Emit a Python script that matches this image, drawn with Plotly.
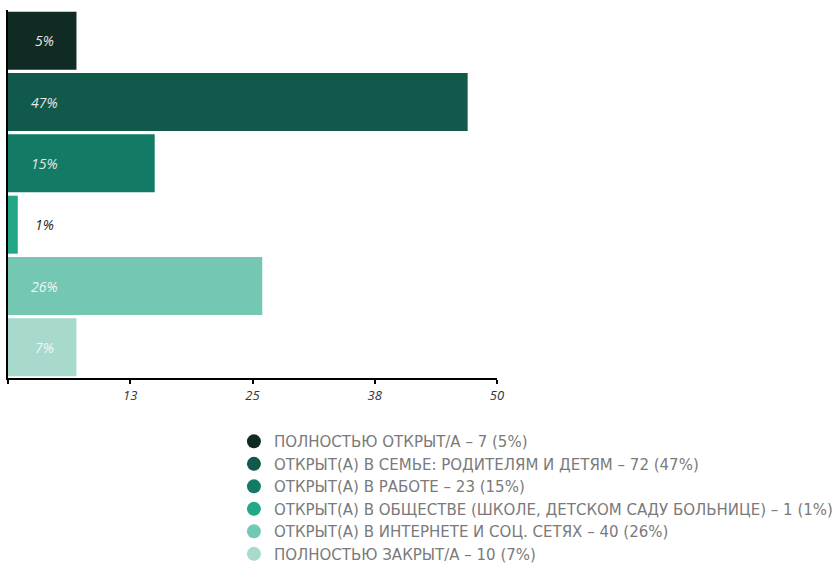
import plotly.graph_objects as go

categories = ["ПОЛНОСТЬЮ ОТКРЫТ/А", "ОТКРЫТ(А) В СЕМЬЕ", "ОТКРЫТ(А) В РАБОТЕ",
              "ОТКРЫТ(А) В ОБЩЕСТВЕ", "ОТКРЫТ(А) В ИНТЕРНЕТЕ", "ПОЛНОСТЬЮ ЗАКРЫТ/А"]
bar_values = [7, 47, 15, 1, 26, 7]
bar_labels = ["5%", "47%", "15%", "1%", "26%", "7%"]
colors = ["#0f2b24", "#115a4b", "#137b65", "#22a887", "#74c7b3", "#a7dacd"]
label_colors = ["#e6e6e6", "#e6e6e6", "#e6e6e6", "#222222", "#f4f4f4", "#f4f4f4"]
legend_names = [
    "ПОЛНОСТЬЮ ОТКРЫТ/А – 7 (5%)",
    "ОТКРЫТ(А) В СЕМЬЕ: РОДИТЕЛЯМ И ДЕТЯМ – 72 (47%)",
    "ОТКРЫТ(А) В РАБОТЕ – 23 (15%)",
    "ОТКРЫТ(А) В ОБЩЕСТВЕ (ШКОЛЕ, ДЕТСКОМ САДУ БОЛЬНИЦЕ) – 1 (1%)",
    "ОТКРЫТ(А) В ИНТЕРНЕТЕ И СОЦ. СЕТЯХ – 40 (26%)",
    "ПОЛНОСТЬЮ ЗАКРЫТ/А – 10 (7%)",
]
tick_vals = [0, 12.5, 25, 37.5, 50]
tick_text = ["", "13", "25", "38", "50"]
LABEL_X = 3.7

fig = go.Figure()
fig.add_trace(go.Bar(
    x=bar_values, y=categories, orientation="h",
    marker=dict(color=colors, line=dict(width=0)),
    showlegend=False, hoverinfo="skip",
))
for name, c in zip(legend_names, colors):
    fig.add_trace(go.Scatter(
        x=[None], y=[None], mode="markers", name=name,
        marker=dict(symbol="circle", size=14, color=c),
    ))

for cat, lab, lc in zip(categories, bar_labels, label_colors):
    fig.add_annotation(x=LABEL_X, y=cat, text=f"<i>{lab}</i>", showarrow=False,
                       font=dict(family="Open Sans", size=14, color=lc),
                       xanchor="center", yanchor="middle")

fig.update_layout(
    width=835, height=564,
    margin=dict(l=8, r=338, t=10, b=186, autoexpand=False),
    paper_bgcolor="white", plot_bgcolor="white",
    bargap=0.054,
    xaxis=dict(range=[0, 50], tickvals=tick_vals, ticktext=tick_text,
               showgrid=False, zeroline=False, showline=True, linecolor="black",
               linewidth=2, ticks="outside", ticklen=4, tickwidth=2, tickcolor="black",
               tickfont=dict(family="Open Sans", size=13, color="#333333", style="italic")),
    yaxis=dict(autorange="reversed", showticklabels=False, showgrid=False,
               zeroline=False, showline=True, linecolor="black", linewidth=2, ticks=""),
    legend=dict(x=0.462, y=-0.128, xanchor="left", yanchor="top",
                font=dict(family="DejaVu Sans", size=15, color="#7a7a7a"),
                itemsizing="trace", tracegroupgap=0, bgcolor="rgba(0,0,0,0)"),
)
fig.write_html("out.html", config={"displayModeBar": False},
               post_script="document.body.style.margin='0';")
